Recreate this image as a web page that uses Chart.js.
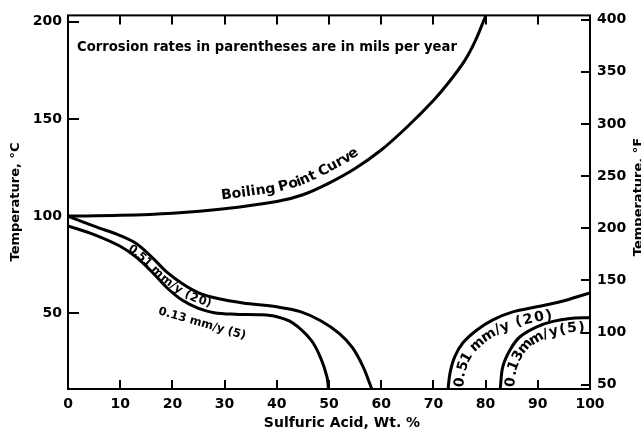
<!DOCTYPE html>
<html>
<head>
<meta charset="utf-8">
<script src="https://cdn.jsdelivr.net/npm/chart.js@4.4.0/dist/chart.umd.min.js"></script>
<style>
  html, body { margin: 0; background: #fff; }
  canvas { display: block; }
</style>
</head>
<body>
<canvas id="chart" width="641" height="431"></canvas>
<script>
/* Iso-corrosion chart: sulfuric acid concentration vs temperature */

// boiling point curve (wt % acid, deg C)
var boilX = [0, 10, 20, 30, 40, 45, 50, 55, 60, 65, 70, 73, 76, 78, 80];
var boilT = [100, 100.4, 101.5, 103.8, 107.5, 111, 117, 124.5, 134, 146, 159.5, 169, 180, 190, 203];

// 0.51 mm/y (20 mpy) line, dilute side
var rate20LeftX = [0, 5, 10, 13, 16, 19, 22, 25, 28.5, 33.5, 40, 44.5, 48.5, 52, 54.5, 56.5, 58.2];
var rate20LeftT = [100, 94.8, 90, 86, 79, 71, 65, 60.5, 57.7, 55.3, 53.3, 50.8, 46, 39.5, 32.3, 22.6, 11];

// 0.13 mm/y (5 mpy) line, dilute side
var rate5LeftX = [0, 5, 10, 13, 16, 19, 22, 25, 28, 32, 37, 40, 43, 46.5, 48.3, 49.6, 49.9];
var rate5LeftT = [95, 90.5, 84.5, 79, 71.5, 63, 56.5, 52.5, 50.3, 49.5, 49.2, 48.2, 45.1, 36.4, 27.7, 17.4, 11];

// 0.51 mm/y (20 mpy) line, concentrated side
var rate20RightX = [72.8, 73.2, 74.1, 75.7, 78.4, 81.4, 85.2, 89.8, 94.3, 100];
var rate20RightT = [11, 19.5, 27.7, 34.9, 41.5, 46.6, 50.7, 53.3, 55.9, 60.5];

// 0.13 mm/y (5 mpy) line, concentrated side
var rate5RightX = [82.8, 83.3, 84.7, 86.6, 89.8, 92.9, 96.2, 100];
var rate5RightT = [11, 22.5, 31.2, 37.9, 43.0, 45.8, 47.3, 47.7];

var acidTicks = [0, 10, 20, 30, 40, 50, 60, 70, 80, 90, 100];
var tempCTicks = [50, 100, 150, 200];
var tempFTicks = [50, 100, 150, 200, 250, 300, 350, 400];

var FONT = '"DejaVu Sans", sans-serif';

function toPoints(xs, ys) {
  return xs.map(function (x, i) { return { x: x, y: ys[i] }; });
}

function curve(xs, ys) {
  return {
    data: toPoints(xs, ys),
    yAxisID: 'y',
    borderColor: '#000',
    borderWidth: 3,
    pointRadius: 0,
    fill: false,
    tension: 0.35
  };
}

function fixedTicks(list) {
  return function (scale) {
    scale.ticks = list.map(function (v) { return { value: v }; });
  };
}

// pixel polyline of a curve, through the chart's scales
function pixelPath(chart, xs, ys) {
  var sx = chart.scales.x, sy = chart.scales.y;
  return xs.map(function (x, i) {
    return { x: sx.getPixelForValue(x), y: sy.getPixelForValue(ys[i]) };
  });
}

function cumulative(pts) {
  var cum = [0];
  for (var i = 1; i < pts.length; i++) {
    cum.push(cum[i - 1] + Math.hypot(pts[i].x - pts[i - 1].x, pts[i].y - pts[i - 1].y));
  }
  return cum;
}

function pointAt(pts, cum, s) {
  s = Math.max(0, Math.min(cum[cum.length - 1], s));
  for (var i = 1; i < pts.length; i++) {
    if (s <= cum[i]) {
      var t = (s - cum[i - 1]) / ((cum[i] - cum[i - 1]) || 1);
      return { x: pts[i - 1].x + (pts[i].x - pts[i - 1].x) * t,
               y: pts[i - 1].y + (pts[i].y - pts[i - 1].y) * t };
    }
  }
  return pts[pts.length - 1];
}

function arcAtPixelX(pts, cum, px) {
  for (var i = 1; i < pts.length; i++) {
    if (pts[i].x >= px) {
      var t = (px - pts[i - 1].x) / ((pts[i].x - pts[i - 1].x) || 1);
      return cum[i - 1] + (cum[i] - cum[i - 1]) * t;
    }
  }
  return cum[cum.length - 1];
}

// lay text along a curve, one glyph at a time; off > 0 puts it right of travel
function textAlong(ctx, pts, text, startS, off, gap) {
  var cum = cumulative(pts);
  var s = startS;
  gap = gap || 0;
  ctx.textAlign = 'center';
  ctx.textBaseline = 'middle';
  for (var k = 0; k < text.length; k++) {
    var ch = text[k];
    var w = ctx.measureText(ch).width;
    var m = s + w / 2;
    var a = pointAt(pts, cum, m - 6), b = pointAt(pts, cum, m + 6), p = pointAt(pts, cum, m);
    var ang = Math.atan2(b.y - a.y, b.x - a.x);
    ctx.save();
    ctx.translate(p.x - Math.sin(ang) * off, p.y + Math.cos(ang) * off);
    ctx.rotate(ang);
    ctx.fillText(ch, 0, 0);
    ctx.restore();
    s += w + gap;
  }
}

var decorations = {
  id: 'decorations',
  afterDraw: function (chart) {
    var ctx = chart.ctx, area = chart.chartArea;
    var sx = chart.scales.x, sy = chart.scales.y, sf = chart.scales.yF;
    ctx.save();
    ctx.strokeStyle = '#000';
    ctx.fillStyle = '#000';
    ctx.lineWidth = 2;
    ctx.strokeRect(area.left, area.top, area.right - area.left, area.bottom - area.top);

    // inward tick marks on all four sides
    ctx.beginPath();
    acidTicks.forEach(function (v) {
      var x = Math.round(sx.getPixelForValue(v));
      ctx.moveTo(x, area.bottom); ctx.lineTo(x, area.bottom - 9);
      ctx.moveTo(x, area.top); ctx.lineTo(x, area.top + 9);
    });
    tempCTicks.forEach(function (v) {
      var y = Math.round(sy.getPixelForValue(v));
      ctx.moveTo(area.left, y); ctx.lineTo(area.left + 11, y);
    });
    tempFTicks.forEach(function (v) {
      var y = Math.round(sf.getPixelForValue(v));
      ctx.moveTo(area.right, y); ctx.lineTo(area.right - 9, y);
    });
    ctx.stroke();

    // axis titles
    ctx.font = 'bold 13px ' + FONT;
    ctx.textAlign = 'center';
    ctx.textBaseline = 'middle';
    ctx.save();
    ctx.translate(16, 202);
    ctx.rotate(-Math.PI / 2);
    ctx.fillText('Temperature, °C', 0, 0);
    ctx.restore();
    ctx.save();
    ctx.translate(639, 197);
    ctx.rotate(-Math.PI / 2);
    ctx.fillText('Temperature, °F', 0, 0);
    ctx.restore();
    ctx.font = 'bold 14px ' + FONT;
    ctx.fillText('Sulfuric Acid, Wt. %', 342, 423);

    // note
    ctx.font = 'bold 13.2px ' + FONT;
    ctx.textAlign = 'left';
    ctx.textBaseline = 'alphabetic';
    ctx.fillText('Corrosion rates in parentheses are in mils per year', 77, 51);

    // curve labels
    var boil = pixelPath(chart, boilX, boilT);
    ctx.font = 'bold 14px ' + FONT;
    textAlong(ctx, boil, 'Boiling Point Curve', arcAtPixelX(boil, cumulative(boil), sx.getPixelForValue(29.7)), -13);

    var l20 = pixelPath(chart, rate20LeftX, rate20LeftT);
    ctx.font = 'bold 11.5px ' + FONT;
    textAlong(ctx, l20, '0.51 mm/y (20)', arcAtPixelX(l20, cumulative(l20), sx.getPixelForValue(12.5)), 7);

    ctx.save();
    ctx.translate(sx.getPixelForValue(25.7), sy.getPixelForValue(44.6));
    ctx.rotate(16 * Math.PI / 180);
    ctx.textAlign = 'center';
    ctx.textBaseline = 'middle';
    ctx.fillText('0.13 mm/y (5)', 0, 0);
    ctx.restore();

    ctx.font = 'bold 14px ' + FONT;
    textAlong(ctx, pixelPath(chart, rate20RightX, rate20RightT), '0.51 mm/y (20)', 3, 11, 1.8);
    textAlong(ctx, pixelPath(chart, rate5RightX, rate5RightT), '0.13mm/y(5)', 3, 10, 2.2);
    ctx.restore();
  }
};

var tickFont = { family: FONT, weight: 'bold', size: 14 };

new Chart(document.getElementById('chart'), {
  type: 'line',
  data: {
    datasets: [
      curve(boilX, boilT),
      curve(rate20LeftX, rate20LeftT),
      curve(rate5LeftX, rate5LeftT),
      curve(rate20RightX, rate20RightT),
      curve(rate5RightX, rate5RightT)
    ]
  },
  options: {
    responsive: false,
    animation: false,
    events: [],
    layout: { padding: { top: 14, left: 0, right: 0, bottom: 0 } },
    plugins: { legend: { display: false }, tooltip: { enabled: false } },
    scales: {
      x: {
        type: 'linear', min: 0, max: 100,
        afterBuildTicks: fixedTicks(acidTicks),
        afterFit: function (s) { s.height = 42; },
        grid: { display: false, drawTicks: false },
        border: { display: false },
        ticks: { color: '#000', font: tickFont, padding: 7, autoSkip: false, maxRotation: 0 }
      },
      y: {
        type: 'linear', position: 'left', min: 11, max: 203.3,
        afterBuildTicks: fixedTicks(tempCTicks),
        afterFit: function (s) { s.width = 68; },
        grid: { display: false, drawTicks: false },
        border: { display: false },
        ticks: { color: '#000', font: tickFont, padding: 6 }
      },
      yF: {
        type: 'linear', position: 'right', min: 46, max: 404,
        afterBuildTicks: fixedTicks(tempFTicks),
        afterFit: function (s) { s.width = 51; },
        grid: { display: false, drawTicks: false },
        border: { display: false },
        ticks: { color: '#000', font: tickFont, padding: 7 }
      }
    }
  },
  plugins: [decorations]
});
</script>
</body>
</html>
